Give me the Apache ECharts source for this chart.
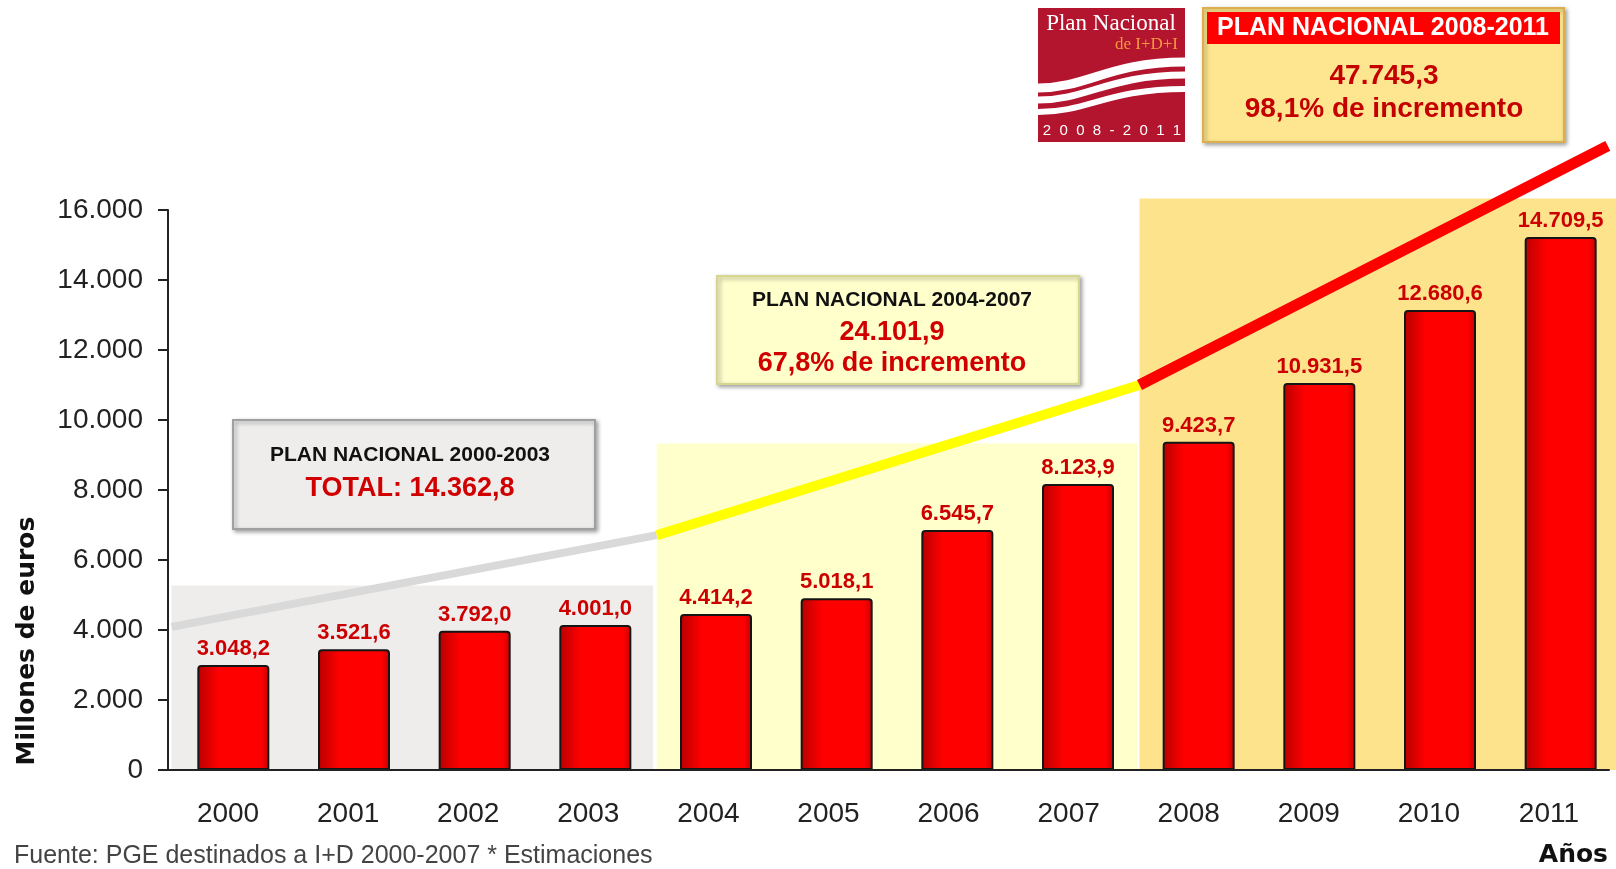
<!DOCTYPE html>
<html>
<head>
<meta charset="utf-8">
<title>PGE destinados a I+D 2000-2011</title>
<script src="https://cdn.jsdelivr.net/npm/echarts@6/dist/echarts.min.js"></script>
<style>
  html, body { margin: 0; padding: 0; background: #fff; }
  #chart { width: 1616px; height: 869px; }
</style>
</head>
<body>
<div id="chart"></div>
<script>
// años del eje X
var years = ['2000', '2001', '2002', '2003', '2004', '2005', '2006', '2007', '2008', '2009', '2010', '2011'];
// altura de cada barra (millones de euros)
var barValues = [3000, 3448, 3980, 4143, 4457, 4905, 6857, 8171, 9380, 11057, 13143, 15229];
// cifra escrita encima de cada barra
var barLabels = ['3.048,2', '3.521,6', '3.792,0', '4.001,0', '4.414,2', '5.018,1', '6.545,7', '8.123,9', '9.423,7', '10.931,5', '12.680,6', '14.709,5'];
// etiquetas del eje Y
var yTickLabels = ['0', '2.000', '4.000', '6.000', '8.000', '10.000', '12.000', '14.000', '16.000'];
// franjas de fondo de cada plan (posición en años desde 2000, altura en millones)
var bandStart = [0.03, 4.07, 8.09];
var bandEnd = [4.04, 8.07, 12.06];
var bandTop = [5270, 9330, 16330];
// línea de tendencia: gris, amarilla, roja
var trendX = [0.03, 4.07, 8.09, 11.99];
var trendY = [4090, 6710, 11000, 17830];

var bandColors = ['#eeedec', '#ffffcc', '#fde48c'];
var trendColors = ['#d9d9d9', '#ffff00', '#ff0000'];
var trendWidths = [8, 10, 11];

var chart = echarts.init(document.getElementById('chart'));

function txt(x, y, text, size, color, opts) {
    opts = opts || {};
    return {
        type: 'text', x: x, y: y, z: 100, rotation: opts.rotation || 0,
        style: {
            text: text, fill: color,
            fontFamily: opts.family || 'Liberation Sans',
            fontWeight: opts.weight || 'bold',
            fontSize: size,
            align: opts.align || 'center',
            verticalAlign: 'middle'
        }
    };
}

function box(x, y, w, h, fill, stroke) {
    return {
        type: 'rect', z: 99,
        shape: { x: x, y: y, width: w, height: h },
        style: {
            fill: fill, stroke: stroke, lineWidth: 2,
            shadowBlur: 4, shadowColor: 'rgba(0,0,0,0.35)', shadowOffsetX: 2, shadowOffsetY: 2
        }
    };
}

function wave(y1, y2, w) {
    return {
        type: 'bezierCurve', z: 100,
        shape: { x1: 1038, y1: y1, cpx1: 1088, cpy1: y1, cpx2: 1108, cpy2: y2, x2: 1185, y2: y2 },
        style: { stroke: '#fff', lineWidth: w, fill: null }
    };
}

var trendSeries = [0, 1, 2].map(function (i) {
    return {
        type: 'line', xAxisIndex: 2, yAxisIndex: 0, z: 3,
        silent: true, clip: false, symbol: 'none',
        lineStyle: { color: trendColors[i], width: trendWidths[i], cap: 'butt' },
        data: [[trendX[i], trendY[i]], [trendX[i + 1], trendY[i + 1]]]
    };
});

var option = {
    animation: false,
    grid: [
        { left: 168, right: 7, top: 210, bottom: 99, outerBoundsMode: 'none' },
        // las barras van algo desplazadas respecto a las marcas del eje
        { left: 173, width: 1448, top: 210, height: 560, outerBoundsMode: 'none' }
    ],
    xAxis: [{
        type: 'category', gridIndex: 0, data: years, z: 10,
        axisLine: { lineStyle: { color: '#222', width: 2 } },
        axisTick: { length: 8, lineStyle: { color: '#222', width: 2 } },
        axisLabel: { margin: 30, color: '#222', fontFamily: 'Liberation Sans', fontSize: 28 }
    }, {
        type: 'category', gridIndex: 1, data: years, show: false
    }, {
        type: 'value', gridIndex: 0, min: 0, max: 12, show: false
    }],
    yAxis: [{
        type: 'value', gridIndex: 0, min: 0, max: 16000, interval: 2000, z: 10,
        axisLine: { show: true, lineStyle: { color: '#222', width: 2 } },
        axisTick: { show: true, length: 10, lineStyle: { color: '#222', width: 2 } },
        axisLabel: {
            margin: 25, color: '#222', fontFamily: 'Liberation Sans', fontSize: 28,
            formatter: function (v) { return yTickLabels[Math.round(v / 2000)]; }
        },
        splitLine: { show: false }
    }, {
        type: 'value', gridIndex: 1, min: 0, max: 16000, show: false
    }],
    series: [{
        type: 'custom', xAxisIndex: 2, yAxisIndex: 0, z: 1, silent: true,
        data: bandStart.map(function (s, i) { return [s, bandEnd[i], bandTop[i]]; }),
        encode: { x: [0, 1], y: 2 },
        renderItem: function (params, api) {
            var p0 = api.coord([api.value(0), api.value(2)]);
            var p1 = api.coord([api.value(1), 0]);
            return {
                type: 'rect',
                shape: { x: p0[0], y: p0[1], width: p1[0] - p0[0], height: p1[1] - p0[1] },
                style: { fill: bandColors[params.dataIndex] }
            };
        }
    }].concat(trendSeries).concat([{
        type: 'bar', xAxisIndex: 1, yAxisIndex: 1, z: 4,
        data: barValues, barWidth: 72,
        itemStyle: {
            color: {
                type: 'linear', x: 0, y: 0, x2: 1, y2: 0,
                colorStops: [
                    { offset: 0, color: '#b80000' },
                    { offset: 0.3, color: '#ff0000' },
                    { offset: 0.88, color: '#ff0000' },
                    { offset: 1, color: '#c80000' }
                ]
            },
            borderColor: '#151515', borderWidth: 2, borderRadius: [3, 3, 0, 0]
        },
        label: {
            show: true, position: 'top', distance: 5,
            color: '#cc0000', fontFamily: 'Liberation Sans', fontWeight: 'bold', fontSize: 22,
            formatter: function (p) { return barLabels[p.dataIndex]; }
        }
    }]),
    graphic: [
        // logo del Plan Nacional
        { type: 'rect', z: 99, shape: { x: 1038, y: 8, width: 147, height: 134 }, style: { fill: '#b3142e' } },
        txt(1111, 24, 'Plan Nacional', 23, '#fff', { family: 'Liberation Serif', weight: 'normal' }),
        txt(1178, 45, 'de I+D+I', 17, '#f39a3c', { family: 'Liberation Serif', weight: 'normal', align: 'right' }),
        wave(88, 62, 9),
        wave(100, 75, 7),
        wave(112, 89, 6),
        txt(1112, 131, '2  0  0  8  -  2  0  1  1', 15, '#fff', { weight: 'normal' }),

        // plan 2008-2011
        box(1203, 8, 361, 134, '#fde68f', '#dcae4e'),
        { type: 'rect', z: 100, shape: { x: 1207, y: 12, width: 353, height: 32 }, style: { fill: '#ff0000' } },
        txt(1383, 28, 'PLAN NACIONAL 2008-2011', 25, '#fff'),
        txt(1384, 76, '47.745,3', 28, '#c40000'),
        txt(1384, 109, '98,1% de incremento', 28, '#c40000'),

        // plan 2004-2007
        box(717, 276, 362, 108, '#ffffcc', '#d6d690'),
        txt(892, 300, 'PLAN NACIONAL 2004-2007', 21, '#111'),
        txt(892, 333, '24.101,9', 27, '#d00000'),
        txt(892, 364, '67,8% de incremento', 27, '#d00000'),

        // plan 2000-2003
        box(233, 420, 362, 109, '#eeedeb', '#a0a0a0'),
        txt(410, 455, 'PLAN NACIONAL 2000-2003', 21, '#111'),
        txt(410, 489, 'TOTAL: 14.362,8', 27, '#d00000'),

        txt(27, 641, 'Millones de euros', 25, '#111', { family: 'DejaVu Sans', rotation: Math.PI / 2 }),
        txt(1608, 855, 'Años', 25, '#111', { family: 'DejaVu Sans', align: 'right' }),
        txt(14, 856, 'Fuente: PGE destinados a I+D 2000-2007 * Estimaciones', 25, '#444', { weight: 'normal', align: 'left' })
    ]
};

chart.setOption(option);
</script>
</body>
</html>
